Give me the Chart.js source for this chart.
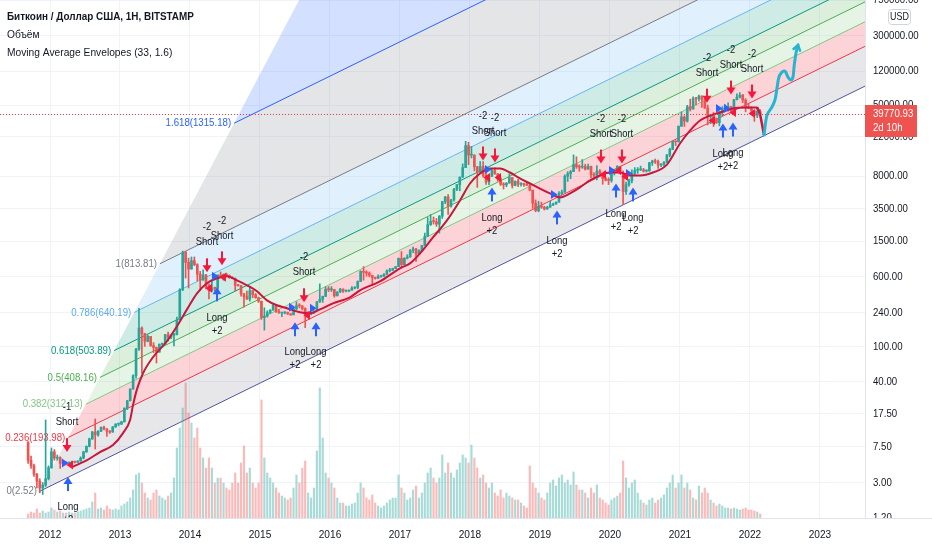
<!DOCTYPE html>
<html><head><meta charset="utf-8">
<script src="https://cdn.jsdelivr.net/npm/chart.js@4.4.1/dist/chart.umd.min.js"></script>
<style>html,body{margin:0;padding:0;background:#fff;overflow:hidden}#wrap{width:932px;height:550px;position:relative}</style>
</head><body><div id="wrap"><canvas id="c" width="932" height="550"></canvas></div>
<script>
const FONT = "'Liberation Sans',Arial,sans-serif";

// ---- candle data: half-month periods from Sep 2011 ----
const startT = 2011 + 8/12;
const halfMonth = 1/24;
const firstOpen = 8.4;
const highs = [
 8.6,5.9,4.8,3.8,3.3,3.0,15.0,4.6,
 7.3,7.0,6.1,5.8,5.3,5.1,5.1,5.2,5.2,5.25,5.8,6.7,7.7,9.4,11.2,15.4,11.4,12.6,12.8,12.0,11.4,12.7,13.6,13.7,
 14.5,20.4,24.9,33.4,48,95,266,165,140,135,129,110,98,106,108,136,144,134,140,212,442,1163,1150,970,
 1000,1000,840,690,720,640,500,550,460,630,680,645,660,630,600,580,495,480,390,415,470,420,390,355,
 320,270,250,258,300,290,260,240,245,242,232,267,315,300,285,270,245,240,250,318,500,365,465,465,
 465,435,410,445,440,425,425,465,465,540,700,780,700,680,625,595,630,612,650,720,745,750,780,975,
 1150,980,1060,1210,1290,1250,1200,1350,1850,2760,2980,2800,2700,2900,4200,4750,4980,4400,5850,6450,7880,11000,19666,19200,
 17300,13900,10300,11700,11700,9200,8400,9750,9950,8600,7750,6800,6800,8500,7760,7100,7400,6800,6700,6750,6600,5600,4350,4200,
 4100,3700,3700,4200,4000,4150,5400,5600,8300,9000,9300,13880,13200,10700,12300,10900,10950,10400,8800,10500,9500,8600,7800,7700,
 8900,9550,10500,10300,9200,6900,7450,9450,10000,10000,10400,9800,9450,11450,12100,12450,12100,11100,11700,14100,16500,19800,19900,29300,
 42000,38000,49700,58300,61800,61200,64900,63500,59000,50000,39500,41300,36000,42500,48000,50500,52900,48400,58000,67000,69000,66000,59000,52000,
 47900,43500,45800,44500];
const lows = [
 4.9,4.3,3.5,2.6,2.3,2.2,2.7,3.2,
 4.3,5.3,5.3,4.3,4.7,4.7,4.8,4.9,4.95,5.0,5.2,5.5,6.5,7.5,9.1,7.1,9.9,11.1,11.6,9.8,10.6,10.9,12.4,12.9,
 13.3,14.2,19.6,24.5,33,44,90,50,100,112,100,85,65,86,97,106,114,122,101,134,198,420,580,450,
 730,800,540,420,550,440,340,410,420,440,600,550,610,575,570,420,470,365,275,335,320,350,345,310,
 200,152,212,232,252,240,235,215,231,228,222,225,255,270,255,162,225,225,235,250,310,310,360,410,
 410,355,365,400,400,405,410,425,440,440,530,550,610,600,480,565,570,590,605,630,680,705,740,780,
 750,820,950,990,1120,890,1070,1170,1340,1700,2250,2330,2200,1850,2700,3950,3000,3600,4200,5500,5500,7800,10000,10800,
 12800,9200,6000,8900,7800,6500,6450,7900,8400,7050,6300,5750,6100,6700,5900,6250,6100,6200,6150,6300,5500,3500,3200,3200,
 3500,3350,3400,3600,3750,3900,4100,5000,5300,7000,7500,9000,9800,9100,9800,9400,9600,7700,7800,7300,8500,6500,7100,6450,
 6850,8250,9150,8500,3850,5000,6150,6750,8100,8600,9250,8900,8900,9100,10550,11100,9800,10250,10400,11400,13200,15900,17600,19300,
 28800,28900,32300,43000,45000,50300,55500,47000,46000,30000,31000,28800,31200,29300,38000,43800,42900,40700,43300,57000,60000,53300,42000,45600,
 39600,32900,36300,38000];
const closes = [
 5.3,4.6,3.7,3.1,2.6,2.8,3.3,4.4,
 6.6,5.6,5.7,4.9,5.0,4.9,4.95,5.1,5.05,5.2,5.6,6.6,7.6,9.2,11.0,10.2,11.2,12.4,11.9,11.2,11.0,12.5,13.5,13.5,
 14.3,20.4,24.6,33.4,47,93,160,139,114,129,102,97,86,106,106,135,126,133,135,198,430,1130,870,732,
 910,820,640,550,630,457,420,447,445,628,610,640,620,586,575,480,477,387,360,338,420,378,350,320,
 210,218,238,254,288,244,236,236,238,230,225,263,286,284,265,230,230,236,250,314,336,362,435,430,
 432,368,405,437,415,416,425,448,455,531,690,673,660,624,590,575,608,609,640,700,710,742,780,963,
 820,970,1000,1190,1230,1080,1180,1350,1700,2300,2500,2480,2330,2870,4150,4700,3700,4340,5700,6450,7800,10000,17600,13800,
 13800,10200,8900,10300,8200,6900,8000,9240,8500,7500,6500,6400,6700,7730,6300,7030,6500,6630,6450,6300,5600,4000,3300,3700,
 3600,3450,3600,3820,3900,4100,5100,5300,8000,8550,9000,10800,10200,10100,10300,9600,10300,8300,8200,9150,8500,7550,7200,7190,
 8800,9350,10350,8550,5400,6430,7100,8630,9300,9450,9450,9140,9150,11350,11850,11650,10650,10780,11500,13800,15950,19700,19400,29000,
 36800,33100,47900,45200,59000,58800,63100,57700,46400,37300,39000,35000,31800,41500,46000,47100,48000,43800,57400,61300,64500,57000,46700,46200,
 43100,38500,42500,39770.93];
const volumes = [
 4,6,5,9,5,7,5,6,
 10,8,6,7,5,5,6,5,5,6,7,8,9,10,16,25,9,10,8,12,9,8,9,8,
 12,14,16,20,28,43,45,35,25,20,18,25,28,22,20,18,22,25,40,70,90,110,135,105,
 95,80,90,70,60,50,60,50,35,40,40,35,30,28,35,45,35,55,72,45,50,35,30,35,
 118,60,45,40,35,30,25,22,20,18,20,30,43,35,50,57,25,20,30,67,130,80,45,40,
 35,30,20,15,15,12,12,14,15,25,35,30,20,18,23,15,12,10,12,15,18,20,20,43,
 30,25,18,20,28,32,20,25,35,45,50,40,35,40,63,45,55,45,40,48,55,63,60,55,
 73,60,50,40,43,35,30,35,25,22,28,20,25,22,20,18,18,15,12,10,52,35,30,25,
 20,18,25,35,38,32,40,43,35,38,33,46,33,28,28,25,20,30,25,33,20,18,15,13,
 18,20,22,25,57,40,30,35,38,25,18,15,13,18,20,15,18,20,23,30,35,43,30,35,
 43,30,35,28,20,18,32,25,30,25,18,15,12,14,12,10,10,9,10,9,8,9,10,8,
 8,7,6,4];

// ---- moving average ----
const maT = [2012.314,2012.529,2012.714,2012.9,2013.043,2013.143,2013.186,2013.243,2013.329,2013.471,2013.671,2013.814,2013.957,2014.1,2014.243,2014.386,2014.529,2014.671,2014.814,2014.957,2015.1,2015.243,2015.386,2015.571,2015.714,2015.857,2016.043,2016.286,2016.429,2016.714,2017.0,2017.143,2017.286,2017.471,2017.671,2017.857,2018.0,2018.143,2018.286,2018.429,2018.571,2018.714,2018.857,2019.0,2019.143,2019.286,2019.429,2019.571,2019.714,2019.857,2020.0,2020.143,2020.286,2020.429,2020.614,2020.814,2021.0,2021.143,2021.286,2021.429,2021.571,2021.757,2021.957,2022.1];
const maP = [4.46,5.33,6.56,7.85,10.7,14.9,22.0,33.2,50.0,75.5,114,168,259,392,507,577,607,548,482,413,327,288,267,240,234,259,303,354,424,534,746,848,1096,1656,2565,4290,6640,8590,9780,9780,8810,7550,6640,5830,5140,4630,5140,6000,7180,8170,8810,8810,8170,8170,8810,10800,18600,25900,33600,38200,41300,45800,46900,46900];

// ---- brush drawings ----
const brushRedT = [2022.1,2022.143,2022.171,2022.2];
const brushRedP = [47600,39700,30700,23100];
const brushCyanT = [2022.2,2022.243,2022.314,2022.357,2022.386,2022.414,2022.457,2022.5,2022.543,2022.586,2022.614,2022.629,2022.657,2022.686];
const brushCyanP = [23100,38700,47600,57100,77700,103000,117000,120000,103000,95500,103000,133000,191000,235000];

// ---- fib channel ----
const fibP1 = [2011.857, 2.4];
const fibP2 = [2023.6, 78500];
const fibP3 = [2013.571, 840];
const fibLevels = [0,0.236,0.382,0.5,0.618,0.786,1,1.618,2.618];
const fibLabels = ['0(2.52)','0.236(193.98)','0.382(312.13)','0.5(408.16)','0.618(503.89)','0.786(640.19)','1(813.81)','1.618(1315.18)',''];
const fibLineColors = ['#50539f','#f23645','#81c784','#4caf50','#089981','#64b5f6','#787b86','#2962ff','#f23645'];
const fibLabelColors = ['#787b86','#f23645','#81c784','#4caf50','#089981','#5aabf0','#787b86','#2962ff',''];
const fibFills = ['rgba(120,123,134,0.18)','rgba(242,54,69,0.22)','rgba(129,199,132,0.2)','rgba(76,175,80,0.2)','rgba(8,153,129,0.2)','rgba(100,181,246,0.2)','rgba(120,123,134,0.2)','rgba(41,98,255,0.2)'];

// ---- strategy signals ----
const shortSignals = [[2012.243,6.56,'-1'],[2014.243,673,'-2'],[2014.457,805,'-2'],[2015.629,311,'-2'],[2018.186,12000,'-2'],[2018.357,11400,'-2'],[2019.871,11100,'-2'],[2020.171,11100,'-2'],[2021.386,53300,'-2'],[2021.729,65600,'-2'],[2022.029,59200,'-2']];
const longSignals = [[2012.257,3.44,'+2'],[2014.386,457,'+2'],[2015.5,186,'+2'],[2015.8,186,'+2'],[2018.314,6000,'+2'],[2019.243,3320,'+2'],[2020.086,6640,'+2'],[2020.329,6000,'+2'],[2021.614,31100,'+2'],[2021.757,31900,'+2']];
const entryMarks = [[2012.214,4.94],[2014.357,607],[2015.457,274],[2015.757,267],[2018.257,9520],[2019.2,5000],[2020.029,9280],[2020.271,8590],[2021.557,45700],[2021.671,45700]];
const exitMarks = [[2012.286,4.69],[2014.271,446],[2014.471,592],[2015.671,222],[2018.243,7750],[2018.4,7750],[2019.9,8370],[2020.114,9280],[2020.214,7960],[2021.457,33600],[2021.757,41300],[2022.029,40200]];

// ---- axes ----
const yearTicks = [2012,2013,2014,2015,2016,2017,2018,2019,2020,2021,2022,2023];
const priceTicks = [1.2,3,7.5,17.5,40,100,240,600,1500,3500,8000,22000,50000,120000,300000,750000];
const xMin = 2011.2857, xMax = 2023.643;
const lastPrice = 39770.93, lastCountdown = '2d 10h';
const titleLines = ['Биткоин / Доллар США, 1H, BITSTAMP','Объём','Moving Average Envelopes (33, 1.6)'];

// derived
const times = closes.map((_, i) => startT + (i + 0.5) * halfMonth);
const opens = closes.map((c, i) => i === 0 ? firstOpen : closes[i - 1]);
const up = closes.map((c, i) => c >= opens[i]);
const UP = '#26a69a', DN = '#ef5350';

Chart.defaults.font.family = FONT;
Chart.defaults.font.size = 11;
Chart.defaults.color = '#131722';

// condensed text helper
function txt(ctx, s, x, y, align, sx) {
  ctx.save(); ctx.translate(x, y); ctx.scale(sx, 1);
  ctx.textAlign = align; ctx.fillText(s, 0, 0); ctx.restore();
}

const fibPlugin = {
  id: 'fib',
  beforeDatasetsDraw(chart) {
    const {ctx, chartArea: a, scales: {x, y}} = chart;
    const lp1 = Math.log10(fibP1[1]), lp3 = Math.log10(fibP3[1]);
    const s = (Math.log10(fibP2[1]) - lp1) / (fibP2[0] - fibP1[0]);
    const tEnd = x.max;
    const pts = fibLevels.map(L => {
      const ts = fibP1[0] + L * (fibP3[0] - fibP1[0]);
      const ls = lp1 + L * (lp3 - lp1);
      const le = ls + s * (tEnd - ts);
      return {x0: x.getPixelForValue(ts), y0: y.getPixelForValue(Math.pow(10, ls)),
              x1: x.getPixelForValue(tEnd), y1: y.getPixelForValue(Math.pow(10, le))};
    });
    ctx.save();
    ctx.beginPath(); ctx.rect(a.left, a.top, a.right - a.left, a.bottom - a.top); ctx.clip();
    for (let i = 0; i < pts.length - 1; i++) {
      const A = pts[i], B = pts[i + 1];
      ctx.fillStyle = fibFills[i];
      ctx.beginPath();
      ctx.moveTo(A.x0, A.y0); ctx.lineTo(A.x1, A.y1); ctx.lineTo(B.x1, B.y1); ctx.lineTo(B.x0, B.y0);
      ctx.closePath(); ctx.fill();
    }
    for (let i = 0; i < pts.length - 1; i++) {
      const A = pts[i];
      ctx.strokeStyle = fibLineColors[i]; ctx.lineWidth = 1;
      ctx.beginPath(); ctx.moveTo(A.x0, A.y0); ctx.lineTo(A.x1, A.y1); ctx.stroke();
    }
    ctx.font = '11.5px ' + FONT; ctx.textBaseline = 'middle';
    for (let i = 0; i < pts.length - 1; i++) {
      ctx.fillStyle = fibLabelColors[i];
      txt(ctx, fibLabels[i], pts[i].x0 - 3, pts[i].y0, 'right', 0.84);
    }
    ctx.restore();
  }
};

function drawArrow(ctx, X, tip, dir, color) {
  ctx.fillStyle = color;
  if (dir > 0) ctx.fillRect(X - 1, tip - 14, 2, 8); else ctx.fillRect(X - 1, tip + 6, 2, 8);
  ctx.beginPath();
  ctx.moveTo(X - 4.5, tip - dir * 7); ctx.lineTo(X + 4.5, tip - dir * 7); ctx.lineTo(X, tip);
  ctx.closePath(); ctx.fill();
}

const overlayPlugin = {
  id: 'overlay',
  afterDatasetsDraw(chart) {
    const {ctx, chartArea: a, scales: {x, y}} = chart;
    ctx.save();
    ctx.beginPath(); ctx.rect(a.left, a.top, a.right - a.left, a.bottom - a.top); ctx.clip();
    const py = Math.round(y.getPixelForValue(lastPrice)) + 0.5;
    ctx.strokeStyle = '#f23645'; ctx.lineWidth = 1; ctx.setLineDash([1, 2]);
    ctx.beginPath(); ctx.moveTo(a.left, py); ctx.lineTo(a.right, py); ctx.stroke();
    ctx.setLineDash([]);
    // cyan arrow head
    const n = brushCyanT.length;
    const ex = x.getPixelForValue(brushCyanT[n - 1]), ey = y.getPixelForValue(brushCyanP[n - 1]);
    const bx = x.getPixelForValue(brushCyanT[n - 2]), by = y.getPixelForValue(brushCyanP[n - 2]);
    const ang = Math.atan2(ey - by, ex - bx);
    ctx.strokeStyle = '#27b4d1'; ctx.lineWidth = 2.5; ctx.lineCap = 'round';
    ctx.beginPath();
    ctx.moveTo(ex - 6 * Math.cos(ang - 0.6), ey - 6 * Math.sin(ang - 0.6));
    ctx.lineTo(ex, ey);
    ctx.lineTo(ex - 6 * Math.cos(ang + 0.6), ey - 6 * Math.sin(ang + 0.6));
    ctx.stroke();
    // trade markers
    entryMarks.forEach(([t, p]) => {
      const X = x.getPixelForValue(t), Y = y.getPixelForValue(p);
      ctx.fillStyle = '#2962ff'; ctx.beginPath();
      ctx.moveTo(X - 3, Y - 4.5); ctx.lineTo(X + 3.5, Y); ctx.lineTo(X - 3, Y + 4.5); ctx.closePath(); ctx.fill();
    });
    exitMarks.forEach(([t, p]) => {
      const X = x.getPixelForValue(t), Y = y.getPixelForValue(p);
      ctx.fillStyle = '#f7173b'; ctx.beginPath();
      ctx.moveTo(X + 3, Y - 4.5); ctx.lineTo(X - 3.5, Y); ctx.lineTo(X + 3, Y + 4.5); ctx.closePath(); ctx.fill();
    });
    ctx.font = '11.5px ' + FONT; ctx.textBaseline = 'middle';
    shortSignals.forEach(([t, p, lab]) => {
      const X = x.getPixelForValue(t), Y = y.getPixelForValue(p);
      drawArrow(ctx, X, Y, 1, '#f7173b');
      ctx.fillStyle = '#131722';
      txt(ctx, 'Short', X, Y - 30, 'center', 0.82); txt(ctx, lab, X, Y - 45, 'center', 0.82);
    });
    longSignals.forEach(([t, p, lab]) => {
      const X = x.getPixelForValue(t), Y = y.getPixelForValue(p);
      drawArrow(ctx, X, Y, -1, '#2962ff');
      ctx.fillStyle = '#131722';
      txt(ctx, 'Long', X, Y + 30, 'center', 0.82); txt(ctx, lab, X, Y + 43, 'center', 0.82);
    });
    ctx.restore();
  },
  afterDraw(chart) {
    const {ctx, chartArea: a, scales: {x, y}} = chart;
    ctx.save();
    // axis separator lines
    ctx.strokeStyle = '#e0e3eb'; ctx.lineWidth = 1;
    ctx.beginPath(); ctx.moveTo(0, a.bottom + 0.5); ctx.lineTo(932, a.bottom + 0.5); ctx.stroke();
    // price axis labels
    ctx.save();
    ctx.beginPath(); ctx.rect(a.right + 1, 0, 932 - a.right, a.bottom); ctx.clip();
    ctx.fillStyle = '#131722'; ctx.font = '11.5px ' + FONT; ctx.textBaseline = 'middle';
    priceTicks.forEach(v => {
      txt(ctx, v.toFixed(2), a.right + 8, y.getPixelForValue(v), 'left', 0.84);
    });
    ctx.restore();
    // time axis labels
    ctx.fillStyle = '#131722'; ctx.font = '11.5px ' + FONT; ctx.textBaseline = 'middle';
    yearTicks.forEach(v => txt(ctx, String(v), x.getPixelForValue(v), a.bottom + 17, 'center', 0.88));
    // legend texts
    ctx.textBaseline = 'middle'; ctx.fillStyle = '#131722';
    ctx.font = 'bold 11px ' + FONT; txt(ctx, titleLines[0], 7, 17, 'left', 0.9);
    ctx.font = '11px ' + FONT;
    txt(ctx, titleLines[1], 7, 35, 'left', 0.93);
    txt(ctx, titleLines[2], 7, 53, 'left', 0.93);
    // last price box
    const py = Math.round(y.getPixelForValue(lastPrice));
    ctx.fillStyle = DN;
    ctx.fillRect(a.right, py - 9, 52, 32);
    ctx.fillStyle = '#ffffff'; ctx.font = '11.5px ' + FONT;
    txt(ctx, lastPrice.toFixed(2), a.right + 8, py, 'left', 0.84);
    txt(ctx, lastCountdown, a.right + 8, py + 14, 'left', 0.84);
    // currency badge
    ctx.strokeStyle = '#d1d4dc'; ctx.lineWidth = 1;
    ctx.beginPath();
    if (ctx.roundRect) ctx.roundRect(888.5, 9.5, 22, 15, 3); else ctx.rect(888.5, 9.5, 22, 15);
    ctx.fillStyle = '#ffffff'; ctx.fill(); ctx.stroke();
    ctx.fillStyle = '#131722'; ctx.font = '10.5px ' + FONT;
    txt(ctx, 'USD', 899.5, 17.5, 'center', 0.85);
    ctx.restore();
  }
};

new Chart(document.getElementById('c'), {
  type: 'bar',
  data: {
    datasets: [
      {type: 'bar', label: 'Объём', yAxisID: 'v', grouped: false, order: 10, barThickness: 1.5,
       data: times.map((t, i) => ({x: t, y: volumes[i]})),
       backgroundColor: up.map(u => u ? 'rgba(38,166,154,0.4)' : 'rgba(239,83,80,0.4)')},
      {type: 'bar', label: 'wick', yAxisID: 'y', grouped: false, order: 9, barThickness: 1,
       data: times.map((t, i) => ({x: t, y: [lows[i], highs[i]]})),
       backgroundColor: up.map(u => u ? UP : DN)},
      {type: 'bar', label: 'body', yAxisID: 'y', grouped: false, order: 8, barThickness: 2, minBarLength: 1,
       data: times.map((t, i) => ({x: t, y: [Math.min(opens[i], closes[i]), Math.max(opens[i], closes[i])]})),
       backgroundColor: up.map(u => u ? UP : DN)},
      {type: 'line', label: 'MA', yAxisID: 'y', order: 3,
       data: maT.map((t, i) => ({x: t, y: maP[i]})),
       borderColor: '#c8163c', borderWidth: 2, pointRadius: 0, cubicInterpolationMode: 'monotone'},
      {type: 'line', label: 'brushRed', yAxisID: 'y', order: 2,
       data: brushRedT.map((t, i) => ({x: t, y: brushRedP[i]})),
       borderColor: '#c8163c', borderWidth: 2.5, pointRadius: 0, cubicInterpolationMode: 'monotone'},
      {type: 'line', label: 'brushCyan', yAxisID: 'y', order: 1,
       data: brushCyanT.map((t, i) => ({x: t, y: brushCyanP[i]})),
       borderColor: '#27b4d1', borderWidth: 3, pointRadius: 0, tension: 0.3, borderCapStyle: 'round', borderJoinStyle: 'round'}
    ]
  },
  options: {
    responsive: false, animation: false, events: [],
    layout: {padding: 0},
    plugins: {legend: {display: false}, tooltip: {enabled: false}},
    scales: {
      x: {type: 'linear', min: xMin, max: xMax, offset: false,
          grid: {color: '#f0f3fa', drawTicks: false, offset: false},
          border: {color: '#e0e3eb'},
          ticks: {display: false},
          afterBuildTicks: s => { s.ticks = yearTicks.map(v => ({value: v})); },
          afterFit: s => { s.height = 32; }},
      y: {type: 'logarithmic', position: 'right', min: 1.2, max: 750000,
          grid: {color: '#f0f3fa', drawTicks: false},
          border: {color: '#e0e3eb'},
          ticks: {display: false},
          afterBuildTicks: s => { s.ticks = priceTicks.map(v => ({value: v})); },
          afterFit: s => { s.width = 67; }},
      v: {type: 'linear', display: false, min: 0, max: 518}
    }
  },
  plugins: [fibPlugin, overlayPlugin]
});
</script></body></html>
